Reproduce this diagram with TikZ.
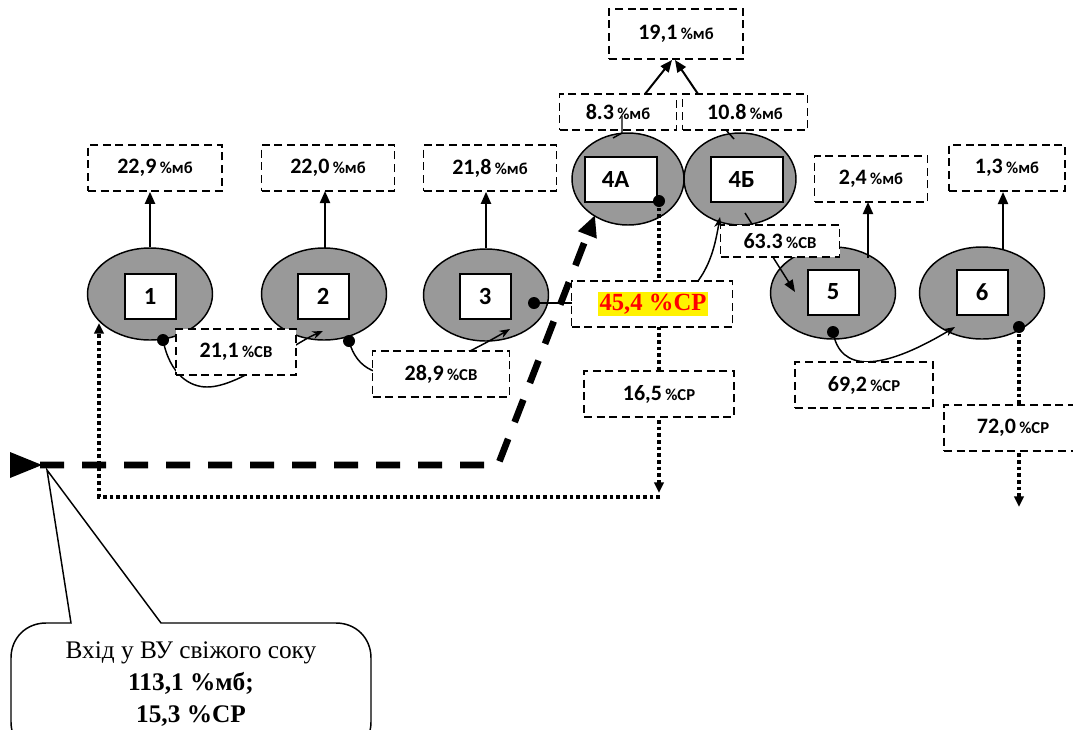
\documentclass[tikz,border=0pt]{standalone}
\usepackage{fontspec}
\setmainfont{Liberation Serif}
\newfontfamily\calfont{Carlito}
\usetikzlibrary{arrows.meta,shapes.geometric}
\definecolor{ellgray}{RGB}{153,153,153}
\newcommand\numf{\calfont\bfseries\fontsize{16.5}{19}\selectfont}
\newcommand\unitf{\calfont\bfseries\fontsize{12.5}{15}\selectfont}
\newcommand\vlab[2]{{\numf #1} {\unitf #2}}
\tikzset{
  ell/.style={ellipse, draw, fill=ellgray, line width=1.1pt, inner sep=0pt, minimum width=93.75pt, minimum height=69pt},
  ellb/.style={ell, minimum width=84pt},
  sq/.style={rectangle, draw, fill=white, line width=1.5pt, inner sep=0pt, minimum width=38.25pt, minimum height=33.75pt, font=\calfont\bfseries\fontsize{18.5}{21}\selectfont},
  sqb/.style={sq, minimum width=54pt},
  dbox/.style={rectangle, draw, fill=white, line width=1.2pt, dash pattern=on 6pt off 3.5pt, inner sep=0pt, minimum height=34.5pt},
  sarr/.style={line width=1.5pt, -{Triangle[length=9pt,width=7.5pt]}},
  carr/.style={line width=1.1pt, -{Stealth[length=8pt,width=6pt]}},
  dotl/.style={line width=2.8pt, dash pattern=on 2.8pt off 2.2pt},
  darr/.style={dotl, -{Triangle[length=8pt,width=7pt]}},
  bigdash/.style={line width=5pt, dash pattern=on 18pt off 13.5pt},
  blackdot/.style={circle, fill=black, inner sep=0pt, minimum size=9pt},
}
\begin{document}
\begin{tikzpicture}[x=0.75pt,y=-0.75pt]
\useasboundingbox (0,0) rectangle (1073,729);
\clip (0,0) rectangle (1073,729);
\fill[white] (0,0) rectangle (1073,729);

% evaporator bodies
\node[ell] (e1) at (150,294) {};
\node[sq] (s1) at (150,296) {1};
\node[ell] (e2) at (324,294) {};
\node[sq] (s2) at (323,296) {2};
\node[ell] (e3) at (486,295) {};
\node[sq] (s3) at (485,296) {3};
\node[ellb] (e4a) at (628,179) {};
\node[sqb] (s4a) at (621,179) {4А\hspace*{8pt}};
\node[ellb] (e4b) at (740,179) {};
\node[sqb] (s4b) at (747,179) {4Б\hspace*{8pt}};
\node[ell] (e5) at (833,293) {};
\node[sq] (s5) at (833,292) {5};
\node[ell] (e6) at (982,293) {};
\node[sq] (s6) at (982,292) {6};

% named points
\coordinate (d1) at (163,340);
\coordinate (d2) at (349,341);
\coordinate (d3) at (534,303);
\coordinate (d4) at (659,201);
\coordinate (d5) at (833,332);
\coordinate (d6) at (1019,327);
\coordinate (t1) at (99,323);
\coordinate (t2) at (323,331);
\coordinate (t3) at (510,329);
\coordinate (t4a) at (595,215);
\coordinate (t4b) at (720,217);
\coordinate (s45) at (745,213);
\coordinate (t5) at (795,292);
\coordinate (t6) at (955,327);
\coordinate (k1) at (659,493);
\coordinate (k2) at (660,497);
\coordinate (k3) at (99,497);
\coordinate (k4) at (1019,507);
\coordinate (in0) at (40,465);
\coordinate (in1) at (498,465);
\coordinate (tip) at (47,470);
\coordinate (a83) at (645,94);
\coordinate (a108) at (698,94);
\coordinate (h1) at (672,60);
\coordinate (h2) at (675,60);
\coordinate (r3top) at (698,281);

% curved juice connectors
\draw[carr] (d1) .. controls (170,375) and (190,387) .. (207,387)
                 .. controls (240,387) and (290,345) .. (t2);
\draw[carr] (d2) .. controls (365,400) and (440,370) .. (t3);
\draw[line width=1.1pt] (d3) -- (572,303);
\draw[carr] (r3top) .. controls (712,262) and (716,240) .. (t4b);
\draw[line width=1.1pt, -{Triangle[length=9pt,width=7pt]}] (s45) -- (t5);
\draw[carr] (d5) .. controls (840,372) and (880,372) .. (t6);

% dotted flows
\draw[dotl] (d4) -- (659,300);
\draw[dotl] (659,320) -- (659,390);
\draw[darr] (659,400) -- (k1);
\draw[darr] (k2) -- (k3) -- (t1);
\draw[dotl] (d6) -- (1019,420);
\draw[darr] (1019,440) -- (k4);

% fresh juice inlet
\draw[bigdash, -{Triangle[length=16pt,width=14pt]}] (in0) -- (in1) -- (t4a);
\fill (10,452) -- (42,465) -- (10,478) -- cycle;

% dots
\node[blackdot] at (d1) {};
\node[blackdot] at (d2) {};
\node[blackdot] at (d3) {};
\node[blackdot] at (d4) {};
\node[blackdot] at (d5) {};
\node[blackdot] at (d6) {};

% vapour boxes
\node[dbox, minimum width=100.5pt] (b1) at (155,168) {\vlab{22,9}{\%мб}};
\node[dbox, minimum width=99.75pt] (b2) at (328,168) {\vlab{22,0}{\%мб}};
\node[dbox, minimum width=99.75pt] (b3) at (490,168) {\vlab{21,8}{\%мб}};
\node[dbox, minimum width=87.75pt, minimum height=27pt] (b4a) at (618,112) {\vlab{8.3}{\%мб}};
\node[dbox, minimum width=93.75pt, minimum height=27pt] (b4b) at (745,112) {\vlab{10.8}{\%мб}};
\node[dbox, minimum width=100.5pt, minimum height=37.5pt] (b4) at (676,34) {\vlab{19,1}{\%мб}};
\node[dbox, minimum width=84.75pt] (b5) at (871,179) {\vlab{2,4}{\%мб}};
\node[dbox, minimum width=87pt] (b6) at (1007,168) {\vlab{1,3}{\%мб}};

% juice boxes
\node[dbox, minimum width=90pt] (c12) at (236,352) {\vlab{21,1}{\%СВ}};
\node[dbox, minimum width=102.75pt] (c23) at (441,374) {\vlab{28,9}{\%СВ}};
\node[dbox, minimum width=89.25pt, minimum height=24pt] (c45) at (780,241) {\vlab{63.3}{\%СВ}};
\node[dbox, minimum width=120.75pt] (r3) at (652,304) {};
\node[fill=yellow, inner sep=1.5pt, text=red, font=\bfseries\fontsize{18.5}{20}\selectfont] (r3t) at (653,304) {45,4 \%СР};
\node[dbox, minimum width=112.5pt] (r4) at (659,394) {\vlab{16,5}{\%СР}};
\node[dbox, minimum width=103.5pt] (r5) at (864,385) {\vlab{69,2}{\%СР}};
\node[dbox, minimum width=103.5pt] (r6) at (1013,428) {\vlab{72,0}{\%СР}};

% vapour arrows
\draw[sarr] (e1.north) -- (e1.north |- b1.south);
\draw[sarr] (325,248) -- (325,191);
\draw[sarr] (e3.north) -- (e3.north |- b3.south);
\draw[sarr] (868,258) -- (868 ,202);
\draw[sarr] (1003,250) -- (1003,192);
\draw[sarr] (a83) -- (h1);
\draw[sarr] (a108) -- (h2);
\draw[line width=1.1pt] (622,116) -- (622,133) -- (613,138);
\draw[line width=1.1pt] (726,130) -- (734,139);

% callout
\draw[line width=1.1pt, fill=white] (71,623) -- (tip) -- (161,623) -- (336,623)
   .. controls (356,623) and (371,638) .. (371,658) -- (371,722)
   .. controls (371,742) and (356,752) .. (336,752) -- (46,752)
   .. controls (26,752) and (11,742) .. (11,722) -- (11,658)
   .. controls (11,638) and (26,623) .. (46,623) -- cycle;
\node[align=center, font=\fontsize{19}{24}\selectfont] (cl) at (191,684)
  {Вхід у ВУ свіжого соку\\ \textbf{113,1 \%мб;}\\ \textbf{15,3 \%СР}};
\end{tikzpicture}
\end{document}
